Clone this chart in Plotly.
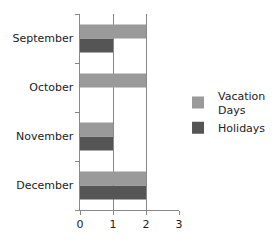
import plotly.graph_objects as go

months = ["December", "November", "October", "September"]
vacation_days = [2, 1, 2, 2]
holidays = [2, 1, 0, 1]
x_ticks = [0, 1, 2, 3]

fig = go.Figure()
fig.add_trace(go.Bar(y=months, x=holidays, orientation="h", name="Holidays",
                     marker=dict(color="#555555", line=dict(width=0))))
fig.add_trace(go.Bar(y=months, x=vacation_days, orientation="h", name="Vacation<br>Days",
                     marker=dict(color="#9a9a9a", line=dict(width=0))))

fig.update_layout(
    width=276, height=244,
    margin=dict(l=80, r=97, t=14, b=34, autoexpand=False),
    paper_bgcolor="white", plot_bgcolor="white",
    barmode="group", bargap=0.43, bargroupgap=0,
    font=dict(family="DejaVu Sans", size=11, color="#222222"),
    showlegend=True,
    legend=dict(xref="container", yref="container", x=0.645, y=0.54,
                xanchor="left", yanchor="middle",
                traceorder="reversed", font=dict(size=11),
                itemwidth=30, tracegroupgap=8, bgcolor="rgba(0,0,0,0)"),
    xaxis=dict(range=[0, 3], tickvals=x_ticks, showgrid=True, gridcolor="#888888",
               gridwidth=1, zeroline=False, showline=True, linecolor="#888888",
               ticks="outside", ticklen=4, tickcolor="#888888", fixedrange=True),
    yaxis=dict(showline=True, linecolor="#888888", ticks="outside", ticklen=4,
               tickcolor="#888888", tickson="boundaries", showgrid=False,
               categoryorder="array", categoryarray=months, ticksuffix=" "),
)

fig.write_html("out.html")
